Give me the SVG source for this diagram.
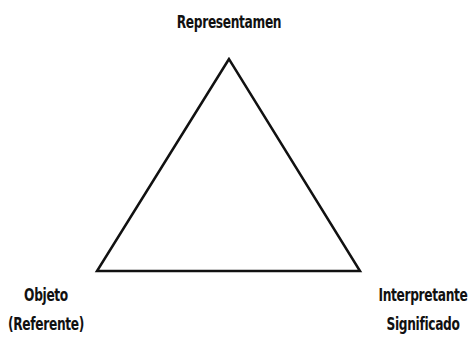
<svg xmlns="http://www.w3.org/2000/svg" width="474" height="341" viewBox="0 0 474 341">
<style>
text{font-family:"DejaVu Sans","Liberation Sans",sans-serif;font-weight:bold;font-size:18px;fill:#111;text-anchor:middle;letter-spacing:-0.5px}
.edge{fill:none;stroke:#111;stroke-width:2.5;stroke-linejoin:miter}
</style>
<rect width="474" height="341" fill="#fff"/>
<g id="connectors">
<polygon class="edge" points="229,59 97,271 360,271"/>
</g>
<g id="representamen"><text transform="translate(229,28) scale(0.68,1)">Representamen</text></g>
<g id="objeto"><text transform="translate(46,301) scale(0.68,1)">Objeto</text><text transform="translate(46,330) scale(0.68,1)">(Referente)</text></g>
<g id="interpretante"><text transform="translate(423,301) scale(0.68,1)">Interpretante</text><text transform="translate(423,330) scale(0.68,1)">Significado</text></g>
</svg>
